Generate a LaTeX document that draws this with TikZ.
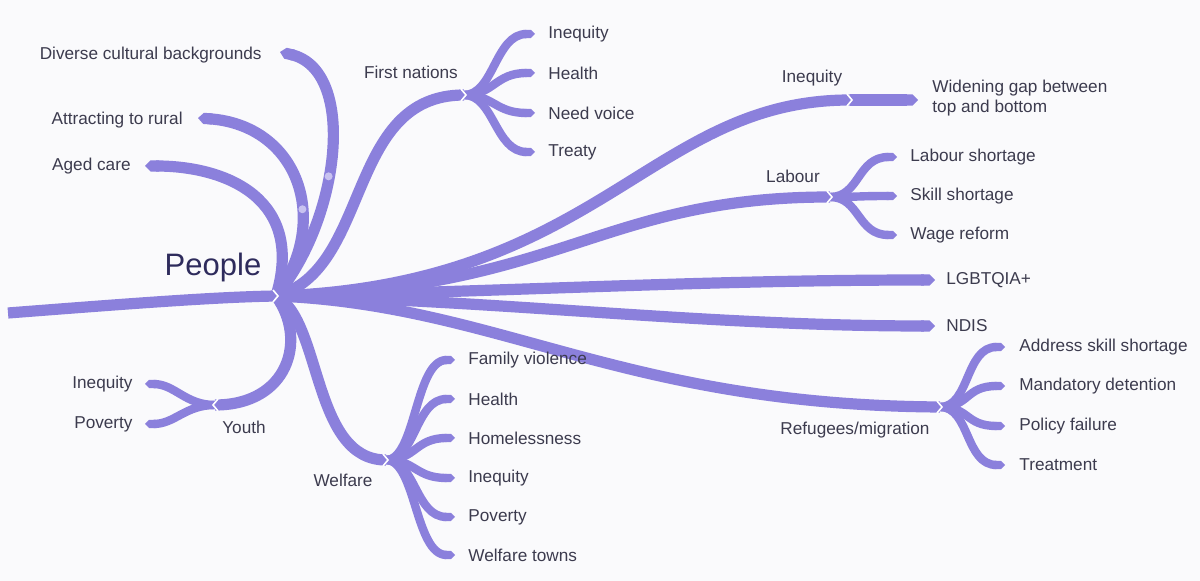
\documentclass[tikz,border=0pt]{standalone}
\usepackage{fontspec}
\setmainfont{Liberation Sans}
\usetikzlibrary{arrows.meta,calc}
\definecolor{br}{HTML}{8B80DC}
\definecolor{txt}{HTML}{3C3B4E}
\definecolor{ppl}{HTML}{2E2B5C}
\definecolor{bgc}{HTML}{FAFAFC}
\definecolor{dotc}{HTML}{C8C2F0}
\begin{document}
\begin{tikzpicture}[x=0.5pt,y=-0.5pt,
  mainbr/.style={draw=br,line width=5.6pt,line cap=butt},
  subbr/.style={draw=br,line width=4.2pt,line cap=butt},
  leaf/.style={-{Triangle Cap[]}},
  dotmark/.style={circle,fill=dotc,inner sep=0pt,minimum size=4pt},
  lbl/.style={font=\fontsize{8.6}{10.3}\selectfont,text=txt,inner sep=0pt},
  chevron/.pic={\draw[white,line width=0.8pt] (-3,-6) -- (2,0) -- (-3,6);}]
\useasboundingbox[fill=bgc] (0,0) rectangle (1200,581);

% coordinates
\coordinate (root) at (8,313);
\coordinate (hub) at (276,296);
\coordinate (dv) at (280,52);
\coordinate (ar) at (198,118);
\coordinate (ac) at (145,166);
\coordinate (fn) at (464,95);
\coordinate (fn1) at (535,34);
\coordinate (fn2) at (535,73);
\coordinate (fn3) at (535,113);
\coordinate (fn4) at (535,152);
\coordinate (iq) at (850,100);
\coordinate (iq1) at (918,100);
\coordinate (lb) at (830,197);
\coordinate (lb1) at (897,157);
\coordinate (lb2) at (897,196);
\coordinate (lb3) at (897,235);
\coordinate (lg) at (935,280);
\coordinate (nd) at (935,326);
\coordinate (rf) at (940,407);
\coordinate (rf1) at (1005,347);
\coordinate (rf2) at (1005,386);
\coordinate (rf3) at (1005,426);
\coordinate (rf4) at (1005,465);
\coordinate (wf) at (386,460);
\coordinate (wf1) at (455,360);
\coordinate (wf2) at (455,399);
\coordinate (wf3) at (455,438);
\coordinate (wf4) at (455,478);
\coordinate (wf5) at (455,517);
\coordinate (wf6) at (455,555);
\coordinate (yt) at (215,405);
\coordinate (yt1) at (145,384);
\coordinate (yt2) at (145,424);

% trunk
\draw[mainbr] (root) .. controls (150,302) and (220,297) .. (hub);

% main branches
\draw[mainbr,leaf] (hub) .. controls (340,220) and (358,70) .. node[dotmark,pos=0.42] (d1) {} (dv);
\draw[mainbr,leaf] (hub) .. controls (332,220) and (298,125) .. node[dotmark,pos=0.37] (d2) {} (ar);
\draw[mainbr,leaf] (hub) .. controls (305,200) and (228,166) .. (ac);
\draw[mainbr] (hub) .. controls (372,270) and (345,95) .. (fn);
\draw[mainbr] (hub) .. controls (600,285) and (650,100) .. (iq);
\draw[mainbr,leaf] (iq) -- (iq1);
\draw[mainbr] (hub) .. controls (560,290) and (600,197) .. (lb);
\draw[mainbr,leaf] (hub) .. controls (500,292) and (700,280) .. (lg);
\draw[mainbr,leaf] (hub) .. controls (500,300) and (700,326) .. (nd);
\draw[mainbr] (hub) .. controls (500,305) and (620,405) .. (rf);
\draw[mainbr] (hub) .. controls (322,320) and (312,460) .. (wf);
\draw[mainbr] (hub) .. controls (308,340) and (288,405) .. (yt);

% sub-branches
\foreach \t in {fn1,fn2,fn3,fn4}{
  \draw[subbr,leaf] (fn) .. controls ($(fn)+(30,0)$) and ($(\t)+(-40,0)$) .. (\t);}
\foreach \t in {lb1,lb2,lb3}{
  \draw[subbr,leaf] (lb) .. controls ($(lb)+(30,0)$) and ($(\t)+(-40,0)$) .. (\t);}
\foreach \t in {rf1,rf2,rf3,rf4}{
  \draw[subbr,leaf] (rf) .. controls ($(rf)+(30,0)$) and ($(\t)+(-40,0)$) .. (\t);}
\foreach \t in {wf1,wf2,wf3,wf4,wf5,wf6}{
  \draw[subbr,leaf] (wf) .. controls ($(wf)+(30,0)$) and ($(\t)+(-40,0)$) .. (\t);}
\foreach \t in {yt1,yt2}{
  \draw[subbr,leaf] (yt) .. controls ($(yt)+(-30,0)$) and ($(\t)+(30,0)$) .. (\t);}

% chevrons
\pic at (hub) {chevron};
\pic at (fn) {chevron};
\pic at (iq) {chevron};
\pic at (lb) {chevron};
\pic at (rf) {chevron};
\pic at (wf) {chevron};
\pic[rotate=180] at (yt) {chevron};

% labels
\node[font=\fontsize{15.5}{18}\selectfont,text=ppl,inner sep=0pt] (people) at (213,267) {People};
\node[lbl,anchor=east] (ldv) at (262,55) {Diverse cultural backgrounds};
\node[lbl,anchor=east] (lar) at (183,120) {Attracting to rural};
\node[lbl,anchor=east] (lac) at (131,166) {Aged care};
\node[lbl] (lfn) at (411,72) {First nations};
\node[lbl,anchor=west] (lfn1) at (548,34) {Inequity};
\node[lbl,anchor=west] (lfn2) at (548,73) {Health};
\node[lbl,anchor=west] (lfn3) at (548,113) {Need voice};
\node[lbl,anchor=west] (lfn4) at (548,152) {Treaty};
\node[lbl] (liq) at (812,78) {Inequity};
\node[lbl,anchor=west,align=left] (liq1) at (932,98) {Widening gap between\\top and bottom};
\node[lbl] (llb) at (793,176) {Labour};
\node[lbl,anchor=west] (llb1) at (910,157) {Labour shortage};
\node[lbl,anchor=west] (llb2) at (910,196) {Skill shortage};
\node[lbl,anchor=west] (llb3) at (910,235) {Wage reform};
\node[lbl,anchor=west] (llg) at (946,280) {LGBTQIA+};
\node[lbl,anchor=west] (lnd) at (946,326) {NDIS};
\node[lbl] (lrf) at (855,430) {Refugees/migration};
\node[lbl,anchor=west] (lrf1) at (1019,347) {Address skill shortage};
\node[lbl,anchor=west] (lrf2) at (1019,386) {Mandatory detention};
\node[lbl,anchor=west] (lrf3) at (1019,426) {Policy failure};
\node[lbl,anchor=west] (lrf4) at (1019,465) {Treatment};
\node[lbl] (lwf) at (343,480) {Welfare};
\node[lbl,anchor=west] (lwf1) at (468,360) {Family violence};
\node[lbl,anchor=west] (lwf2) at (468,399) {Health};
\node[lbl,anchor=west] (lwf3) at (468,438) {Homelessness};
\node[lbl,anchor=west] (lwf4) at (468,478) {Inequity};
\node[lbl,anchor=west] (lwf5) at (468,517) {Poverty};
\node[lbl,anchor=west] (lwf6) at (468,555) {Welfare towns};
\node[lbl] (lyt) at (244,427) {Youth};
\node[lbl,anchor=east] (lyt1) at (133,384) {Inequity};
\node[lbl,anchor=east] (lyt2) at (133,424) {Poverty};
\end{tikzpicture}
\end{document}
